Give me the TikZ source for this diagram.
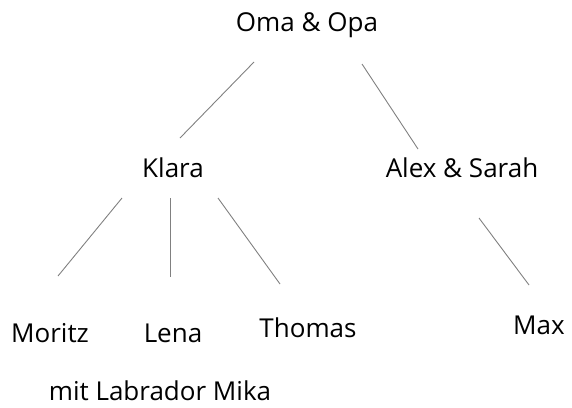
\documentclass[tikz,border=0pt]{standalone}
\usepackage{fontspec}
\setmainfont{Open Sans}
\begin{document}
\begin{tikzpicture}[x=1pt, y=-1pt,
  person/.style={anchor=base, inner sep=0pt, font=\fontsize{26}{31}\selectfont},
  link/.style={draw=black!50, line width=0.9pt}]
\useasboundingbox (0,0) rectangle (572,407);
% family members (placed on their baselines)
\node[person] (oma)    at (307,31)  {Oma \& Opa};
\node[person] (klara)  at (173,177) {Klara};
\node[person] (alex)   at (462,177) {Alex \& Sarah};
\node[person] (moritz) at (50,342)  {Moritz};
\node[person] (lena)   at (173,342) {Lena};
\node[person] (thomas) at (308,337) {Thomas};
\node[person] (max)    at (539,334) {Max};
\node[person] (mika)   at (160,400) {mit Labrador Mika};
% line ends
\coordinate (omaL)    at (254,62);
\coordinate (klaraT)  at (180,138);
\coordinate (omaR)    at (362,64);
\coordinate (alexT)   at (418,149);
\coordinate (klaraL)  at (122,198);
\coordinate (moritzT) at (58,276);
\coordinate (klaraM)  at (170,198);
\coordinate (lenaT)   at (170,277);
\coordinate (klaraR)  at (218,198);
\coordinate (thomasT) at (280,284);
\coordinate (alexB)   at (479,218);
\coordinate (maxT)    at (529,285);
% connections
\draw[link] (omaL) -- (klaraT);
\draw[link] (omaR) -- (alexT);
\draw[link] (klaraL) -- (moritzT);
\draw[link] (klaraM) -- (lenaT);
\draw[link] (klaraR) -- (thomasT);
\draw[link] (alexB) -- (maxT);
\end{tikzpicture}
\end{document}
